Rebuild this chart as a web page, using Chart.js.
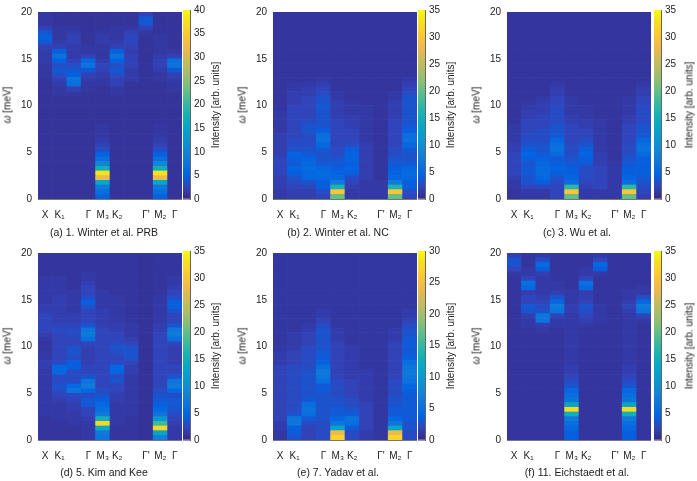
<!DOCTYPE html>
<html>
<head>
<meta charset="utf-8">
<script src="https://cdn.jsdelivr.net/npm/chart.js@4.4.1/dist/chart.umd.min.js"></script>
<style>
  html, body { margin: 0; padding: 0; background: #fff; }
  #page { position: relative; width: 697px; height: 481px; overflow: hidden;
          font-family: "Liberation Sans", Arial, sans-serif; color: #222; }
  #page canvas { position: absolute; }
  .lbl { position: absolute; font-size: 10px; white-space: nowrap; transform: translate(-50%, -50%); }
  .cap { font-size: 10.5px; }
  .rot { transform: translate(-50%, -50%) rotate(-90deg); }
</style>
</head>
<body>
<div id="page"></div>
<script>
// path through the Brillouin zone (10 columns)
const kLabels = ['X', 'K₁', '', 'Γ', 'M₃', 'K₂', '', "Γ'", 'M₂', 'Γ'];
const omegaTicks = [0, 5, 10, 15, 20];
// energy bins of 0.5 meV from 0 to 20 meV
const omegaEdges = Array.from({ length: 41 }, (_, i) => i * 0.5);

// intensity per column, 40 energy bins each (0 -> 20 meV)
const winterPRB = [
  [1,1,1,1,1,1,1,1,1,1, 1,1,1,1,1,1,1,1,1,1, 1,1,1,1,1,1,1.4,1.4,1.4,1.8, 1.8,1.8,2.3,4.2,5,4.2,2.3,1.4,1.4,1.4],
  [1,1,1,1,1,1,1,1,1,1, 1,1,1,1,1,1,1,1,1,1, 1,1,1.4,1.4,1.8,2.3,3.3,4.2,3.3,5, 7,5,2.3,1.8,1.4,1.4,1.4,1,1,1],
  [1,1,1,1,1,1,1,1,1,1, 1,1,1,1,1,1,1,1,1,1, 1,1,1.4,2.3,6.6,7.4,5,4.2,3.3,2.3, 1.8,1.8,1.8,2.3,2.3,1.8,1.4,1,1,1],
  [1,1,1,1,1,1,1,1,1,1, 1,1,1,1,1,1,1,1,1,1, 1,1,1,1.4,1.4,1.8,2.3,4.2,7.4,5.8, 2.3,1.4,1.4,1,1,1,1,1,1,1],
  [5,6.6,8.2,15,32,38,17,10,6.6,5, 3.3,2.3,1.8,1.4,1.4,1.4,1,1,1,1, 1,1,1,1,1.4,1.4,1.8,2.3,2.8,1.8, 1.4,1.4,1.4,1.8,1.8,1.4,1,1,1,1],
  [1,1,1,1,1,1,1,1,1,1, 1,1,1,1,1,1,1,1,1,1, 1,1,1.4,1.4,2.3,2.3,3.3,4.2,3.3,5, 7,5,2.3,1.8,1.4,1.4,1.4,1,1,1],
  [1,1,1,1,1,1,1,1,1,1, 1,1,1,1,1,1,1,1,1,1, 1,1,1,1,1,1.8,1.8,1.8,2.3,2.3, 2.3,1.8,2.3,2.8,2.8,2.3,1.4,1,1,1],
  [1,1,1,1,1,1,1,1,1,1, 1,1,1,1,1,1,1,1,1,1, 1,1,1,1,1,1,1,1,1,1, 1,1,1,1,1,1.4,2.3,4.2,4.2,2.3],
  [5,6.6,8.2,15,32,38,17,10,6.6,5, 3.3,2.3,1.8,1.4,1.4,1.4,1,1,1,1, 1,1,1,1,1,1.4,1.4,1.8,2.3,2.3, 1.8,1.4,1.4,1.4,1.4,1,1,1,1,1],
  [1,1,1,1,1,1,1,1,1,1, 1,1,1,1,1,1,1,1,1,1, 1,1,1,1.4,1.4,1.8,2.3,4.2,7.4,6.6, 2.3,1.4,1,1,1,1,1,1,1,1]
];

const winterNC = [
  [1.4,1.4,1.8,1.8,1.8,2.3,2.3,2.3,2.3,1.8, 1.8,1.8,1.8,1.8,1.4,1.4,1.4,1.4,1.4,1, 1,1,1,1,1,1,1,1,1,1, 1,1,1,1,1,1,1,1,1,1],
  [1.8,1.8,2.3,2.8,3.3,4.2,4.6,3.7,4.2,4.6, 3.3,2.8,2.8,2.3,2.3,2.3,2.3,2.3,2.3,2.3, 1.8,1.8,1.8,1.4,1.4,1,1,1,1,1, 1,1,1,1,1,1,1,1,1,1],
  [1.8,1.8,2.3,3.3,5,5,5.4,5,4.6,3.7, 3.3,2.8,2.8,2.8,3.3,3.3,2.8,2.3,2.3,2.3, 2.3,2.3,1.8,1.8,1.4,1,1,1,1,1, 1,1,1,1,1,1,1,1,1,1],
  [2.3,2.8,4.2,4.2,5,5.4,5,3.7,3.3,3.3, 3.7,5,6.2,5.8,4.2,3.3,3.3,3.3,3.3,3.7, 3.3,3.3,2.8,2.3,1.8,1.4,1,1,1,1, 1,1,1,1,1,1,1,1,1,1],
  [20,30,16,7.4,5,4.6,4.2,3.7,3.3,2.8, 2.8,2.3,2.3,2.3,2.3,2.3,2.3,1.8,1.8,1.8, 1.8,1.4,1.4,1,1,1,1,1,1,1, 1,1,1,1,1,1,1,1,1,1],
  [1.4,1.4,1.8,2.3,2.8,4.2,4.6,4.2,4.6,4.6, 4.2,2.8,2.3,2.3,2.3,1.8,1.8,1.8,1.4,1.4, 1.4,1,1,1,1,1,1,1,1,1, 1,1,1,1,1,1,1,1,1,1],
  [1.4,1.4,1.4,1.4,1.8,1.8,1.8,1.8,1.8,1.8, 1.8,1.8,1.4,1.4,1.4,1.4,1.4,1.4,1.4,1.4, 1,1,1,1,1,1,1,1,1,1, 1,1,1,1,1,1,1,1,1,1],
  [1.4,1.4,1.4,1.4,1,1,1,1,1,1, 1,1,1,1,1,1,1,1,1,1, 1,1,1,1,1,1,1,1,1,1, 1,1,1,1,1,1,1,1,1,1],
  [20,30,16,7.4,5,4.6,4.2,3.7,3.3,2.8, 2.8,2.3,2.3,2.3,2.3,2.3,2.3,1.8,1.8,1.8, 1.8,1.4,1.4,1,1,1,1,1,1,1, 1,1,1,1,1,1,1,1,1,1],
  [2.3,2.8,4.2,4.2,5,5.4,5,3.7,3.3,3.3, 3.7,5,6.2,5.8,4.2,3.7,3.3,3.3,3.3,3.3, 3.3,3.3,2.8,2.3,1.8,1.4,1,1,1,1, 1,1,1,1,1,1,1,1,1,1]
];

const wu = [
  [1,1,1.4,1.4,1.8,2.3,2.3,2.3,2.3,2.3, 1.8,1.8,1.4,1.4,1.4,1.4,1,1,1,1, 1,1,1,1,1,1,1,1,1,1, 1,1,1,1,1,1,1,1,1,1],
  [1.4,1.4,2.3,3.3,3.3,3.7,3.7,3.3,4.2,4.6, 4.2,3.3,2.8,2.8,2.3,2.3,2.3,1.8,1.8,1.4, 1.4,1,1,1,1,1,1,1,1,1, 1,1,1,1,1,1,1,1,1,1],
  [1.4,1.4,2.3,4.2,5,5.4,5.4,5,4.6,3.7, 3.3,3.3,2.8,2.8,2.8,2.3,2.3,2.3,1.8,1.8, 1.8,1.4,1,1,1,1,1,1,1,1, 1,1,1,1,1,1,1,1,1,1],
  [2.3,2.3,2.3,2.8,3.3,4.2,4.6,4.2,3.7,5.4, 6.2,5.8,5,3.7,3.3,3.3,2.8,2.8,2.8,2.8, 2.3,2.3,1.8,1.8,1.4,1,1,1,1,1, 1,1,1,1,1,1,1,1,1,1],
  [20,30,17,5.8,4.6,4.2,4.2,3.7,3.3,2.8, 2.8,2.8,2.3,2.3,2.3,2.3,1.8,1.8,1.4,1.4, 1.4,1.4,1,1,1,1,1,1,1,1, 1,1,1,1,1,1,1,1,1,1],
  [1.4,1.4,1.8,2.3,2.8,2.8,2.8,3.7,4.2,4.6, 4.2,3.3,2.8,2.3,2.3,1.8,1.8,1.4,1.4,1.4, 1,1,1,1,1,1,1,1,1,1, 1,1,1,1,1,1,1,1,1,1],
  [1.4,1.4,2.3,2.3,2.3,2.3,2.3,1.8,1.8,1.8, 1.4,1.4,1.4,1.4,1.4,1.4,1.4,1,1,1, 1,1,1,1,1,1,1,1,1,1, 1,1,1,1,1,1,1,1,1,1],
  [1.4,1.4,1.4,1.4,1.4,1.4,1.4,1.4,1,1, 1,1,1,1,1,1,1,1,1,1, 1,1,1,1,1,1,1,1,1,1, 1,1,1,1,1,1,1,1,1,1],
  [20,30,17,5.8,4.6,4.2,4.2,3.7,3.3,2.8, 2.8,2.8,2.3,2.3,2.3,2.3,1.8,1.8,1.4,1.4, 1.4,1.4,1,1,1,1,1,1,1,1, 1,1,1,1,1,1,1,1,1,1],
  [1.8,2.3,2.8,3.3,3.7,4.2,4.2,4.2,4.2,5.4, 6.2,5.8,5,3.7,3.3,3.3,2.8,2.8,2.8,2.8, 2.3,2.3,1.8,1.8,1.4,1,1,1,1,1, 1,1,1,1,1,1,1,1,1,1]
];

const kimKee = [
  [1,1,1,1,1,1.4,1.4,1.4,1.4,1.4, 1.4,1.4,1.4,1.4,1.4,1.8,1.8,1.4,1.4,1, 1,1.4,1.8,2.3,2.3,2.3,2.3,1.8,1.8,1.4, 1.4,1.4,1.4,1.4,1.4,1,1,1,1,1],
  [1,1,1,1,1.4,1.4,1.4,1.4,1.8,2.3, 2.8,3.3,2.8,2.8,5,5,2.8,2.3,2.3,2.3, 2.3,2.3,2.3,2.8,2.3,1.8,1.8,1.8,1.8,1.8, 1.8,1.4,1.4,1.4,1.4,1,1,1,1,1],
  [1,1,1,1.4,1.4,1.4,1.8,1.8,2.3,2.8, 6.6,5,2.8,2.8,2.8,4.2,4.2,2.8,3.3,3.3, 2.3,2.3,2.8,2.8,2.3,1.8,1.8,1.4,1.4,1.4, 1.4,1.4,1,1,1,1,1,1,1,1],
  [1.4,1.4,1.4,1.4,1.8,2.3,2.3,3.7,3.7,2.8, 5,7.4,6.6,3.3,2.3,2.3,1.8,1.8,1.8,1.8, 2.3,5.8,7.4,6.6,3.3,2.3,2.3,2.3,3.3,4.2, 2.8,2.3,2.3,1.8,1.4,1.4,1,1,1,1],
  [6.6,7.4,14,32,15,7.4,5.8,5,4.2,3.3, 2.8,2.3,2.3,2.3,2.3,2.3,2.3,2.3,2.3,2.3, 2.3,2.3,2.3,2.3,1.8,1.8,1.8,1.8,1.4,1.4, 1.4,1.4,1,1,1,1,1,1,1,1],
  [1,1,1,1.4,1.4,1.4,1.4,1.4,1.8,1.8, 2.3,2.3,3.3,2.8,4.6,5,2.8,2.3,2.8,3.3, 2.8,2.3,2.3,1.8,1.8,1.4,1.4,1.4,1.4,1.4, 1.4,1,1,1,1,1,1,1,1,1],
  [1,1,1,1,1,1.4,1.4,1.4,1.4,1.4, 1.4,1.4,1.4,1.4,1.8,1.8,2.3,3.3,3.3,3.3, 2.3,1.8,1.4,1.4,1.4,1,1,1,1,1, 1,1,1,1,1,1,1,1,1,1],
  [0.8,0.8,0.8,0.8,0.8,0.8,0.8,0.8,0.8,0.8, 0.8,0.8,0.8,0.8,0.8,0.8,0.8,0.8,0.8,0.8, 0.8,0.8,0.8,0.8,0.8,0.8,0.8,0.8,0.8,0.8, 0.8,0.8,0.8,0.8,0.8,0.8,0.8,0.8,0.8,0.8],
  [8,13,32,18,11,6.6,5,4.2,3.7,3.3, 2.8,2.3,2.3,2.3,2.3,2.3,2.3,2.3,2.3,2.3, 2.3,2.3,2.3,1.8,1.8,1.4,1.4,1.4,1.4,1.4, 1.4,1,1,1,1,1,1,1,1,1],
  [1.4,1.4,1.4,1.8,2.3,2.8,3.3,3.7,3.7,2.8, 5,7.4,6.6,3.3,2.3,2.3,1.8,1.8,1.8,1.8, 2.3,5.8,7.4,7,3.3,2.3,2.3,3.3,4.2,4.2, 2.8,2.3,1.8,1.4,1.4,1,1,1,1,1]
];

const yadav = [
  [1,1,1.4,1.4,1.8,1.8,1.8,1.8,1.8,1.8, 1.8,1.8,1.8,1.8,1.8,1.8,1.4,1.4,1.4,1, 1,1,1,1,1,1,1,1,1,1, 1,1,1,1,1,1,1,1,1,1],
  [2.8,3.3,3.7,5.8,5.8,2.8,2.3,2.3,2.3,2.3, 2.3,2.3,2.3,2.3,2.3,2.3,1.8,1.8,1.8,1.4, 1.4,1.4,1.4,1,1,1,1,1,1,1, 1,1,1,1,1,1,1,1,1,1],
  [1.8,1.8,1.8,2.3,3.3,5,5.4,5,3.3,2.8, 2.8,2.8,2.8,2.8,2.8,2.3,2.3,2.3,2.3,2.3, 1.8,1.8,1.8,1.4,1.4,1,1,1,1,1, 1,1,1,1,1,1,1,1,1,1],
  [2.3,2.3,2.3,2.3,2.8,2.8,2.8,2.8,2.8,2.8, 3.3,3.3,5,5.8,6.2,5,3.7,3.3,3.3,2.8, 2.8,2.8,2.8,2.8,2.3,1.8,1.4,1.4,1,1, 1,1,1,1,1,1,1,1,1,1],
  [27,24,11,5.8,4.2,3.3,3.3,2.8,2.8,2.3, 2.3,2.3,2.3,1.8,1.8,1.8,1.8,1.8,1.8,1.8, 1.8,1.4,1.4,1.4,1,1,1,1,1,1, 1,1,1,1,1,1,1,1,1,1],
  [2.3,2.3,3.3,5,5.4,3.3,2.8,2.3,2.3,1.8, 1.8,1.8,1.8,1.4,1.4,1.4,1.4,1.4,1.4,1.4, 1,1,1,1,1,1,1,1,1,1, 1,1,1,1,1,1,1,1,1,1],
  [1.4,1.4,1.8,1.8,1.8,1.8,1.8,1.8,1.4,1.4, 1.4,1.4,1.4,1.4,1.4,1,1,1,1,1, 1,1,1,1,1,1,1,1,1,1, 1,1,1,1,1,1,1,1,1,1],
  [1,1,1,1,1,1,1,1,1,1, 1,1,1,1,1,1,1,1,1,1, 1,1,1,1,1,1,1,1,1,1, 1,1,1,1,1,1,1,1,1,1],
  [27,24,11,5.8,4.2,3.3,3.3,2.8,2.8,2.3, 2.3,2.3,2.3,1.8,1.8,1.8,1.8,1.8,1.8,1.8, 1.8,1.4,1.4,1.4,1,1,1,1,1,1, 1,1,1,1,1,1,1,1,1,1],
  [2.3,2.3,2.8,2.8,3.3,3.3,3.3,3.3,3.3,3.3, 3.7,4.2,5.4,5.8,6.2,5.8,5,3.7,3.3,3.3, 3.3,3.3,2.8,2.8,2.3,1.8,1.4,1.4,1,1, 1,1,1,1,1,1,1,1,1,1]
];

const eichstaedt = [
  [1,1,1,1,1,1,1,1,1,1, 1,1,1,1,1,1,1,1,1,1, 1,1,1,1,1,1,1,1,1,1, 1,1,1,1,1,1.4,2.3,3.3,3.3,1.8],
  [1,1,1,1,1,1,1,1,1,1, 1,1,1,1,1,1,1,1,1,1, 1,1,1,1,1.4,1.4,1.8,3.3,3.7,2.3, 2.3,1.8,5,6,2.3,1.4,1.4,1,1,1],
  [1,1,1,1,1,1,1,1,1,1, 1,1,1,1,1,1,1,1,1,1, 1,1,1,1.4,1.8,6.6,7,3.3,2.8,2.3, 1.8,1.4,1.4,1.4,1.4,1.8,4.2,5.4,2.8,1.4],
  [1,1,1,1,1,1,1,1,1,1, 1,1,1,1,1,1,1,1,1,1, 1,1,1,1,1.4,1.4,2.3,6.6,7.4,5, 3.3,1.8,1.4,1.4,1,1,1,1,1,1],
  [4.2,4.2,5,5.8,7.4,15,32,13,6.6,5.8, 5,3.3,2.8,2.3,1.8,1.8,1.4,1.4,1.4,1.4, 1.4,1.4,1.4,1.4,1.4,1.4,1.4,1.8,1.8,1.4, 1.4,1.4,1,1,1,1,1,1,1,1],
  [1,1,1,1,1,1,1,1,1,1, 1,1,1,1,1,1,1,1,1,1, 1,1,1,1,1.4,1.8,2.3,2.8,3.3,2.3, 1.8,1.8,5,6,2.3,1.4,1.4,1,1,1],
  [1,1,1,1,1,1,1,1,1,1, 1,1,1,1,1,1,1,1,1,1, 1,1,1,1,1,1.4,1.4,1.4,1.4,1, 1,1,1,1,1,1.4,4.2,5,2.3,1.4],
  [1,1,1,1,1,1,1,1,1,1, 1,1,1,1,1,1,1,1,1,1, 1,1,1,1,1,1,1,1,1,1, 1,1,1,1,1,1,1,1,1,1],
  [4.2,4.2,5,5.8,7.4,15,32,13,6.6,5.8, 5,3.3,2.8,2.3,1.8,1.8,1.4,1.4,1.4,1.4, 1.4,1.4,1.4,1.4,1.4,1.4,1.4,1.8,2.3,1.8, 1.4,1.4,1,1,1,1,1,1,1,1],
  [1,1,1,1,1,1,1,1,1,1, 1,1,1,1,1,1,1,1,1,1, 1,1,1,1,1,1.4,2.3,6.6,7.4,5, 2.8,1.4,1.4,1,1,1,1,1,1,1]
];

const panelData = [winterPRB, winterNC, wu, kimKee, yadav, eichstaedt];
const colorMax = [40, 35, 35, 35, 30, 35];
const captions = ['(a) 1. Winter et al. PRB', '(b) 2. Winter et al. NC', '(c) 3. Wu et al.',
                  '(d) 5. Kim and Kee', '(e) 7. Yadav et al.', '(f) 11. Eichstaedt et al.'];

// parula colour map, [position, r, g, b]
const parula = [
  [0/63, 53, 42, 135], [4/63, 50, 67, 186], [8/63, 3, 99, 225], [12/63, 13, 117, 220],
  [16/63, 20, 133, 212], [20/63, 9, 152, 209], [24/63, 6, 167, 198], [28/63, 21, 177, 180],
  [32/63, 56, 185, 158], [36/63, 101, 190, 134], [40/63, 146, 191, 115], [44/63, 183, 189, 100],
  [48/63, 217, 186, 86], [52/63, 248, 187, 68], [56/63, 252, 206, 46], [60/63, 245, 228, 29],
  [63/63, 249, 251, 14]
];

function parulaColor(t) {
  t = Math.max(0, Math.min(1, t));
  for (let i = 1; i < parula.length; i++) {
    if (t <= parula[i][0]) {
      const a = parula[i - 1], b = parula[i];
      const f = (t - a[0]) / (b[0] - a[0]);
      const c = [1, 2, 3].map(k => Math.round(a[k] + (b[k] - a[k]) * f));
      return `rgb(${c[0]},${c[1]},${c[2]})`;
    }
  }
  return 'rgb(249,251,14)';
}

// layout
const colLeft = [38, 273, 507];
const rowTop = [10, 251];
const plotW = 144, plotH = 189;
const cbOffset = [145, 145, 147];
const cbTitleX = [215, 450, 689];
const captionX = [104, 338, 577];
const captionY = [232, 472];
const tickFont = { family: '"Liberation Sans", Arial, sans-serif', size: 10 };
const textColor = '#222';

const page = document.getElementById('page');

function addCanvas(left, top, w, h) {
  const c = document.createElement('canvas');
  c.width = w; c.height = h;
  c.style.left = left + 'px'; c.style.top = top + 'px';
  c.style.width = w + 'px'; c.style.height = h + 'px';
  page.appendChild(c);
  return c;
}

function addLabel(html, x, y, cls) {
  const d = document.createElement('div');
  d.className = 'lbl ' + cls;
  d.innerHTML = html;
  d.style.left = x + 'px'; d.style.top = y + 'px';
  page.appendChild(d);
}

panelData.forEach((cols, p) => {
  const ci = p % 3, ri = Math.floor(p / 3);
  const left = colLeft[ci], top = rowTop[ri];
  const max = colorMax[p];

  // heatmap: one floating-bar dataset per energy bin
  const datasets = [];
  for (let i = 0; i < omegaEdges.length - 1; i++) {
    datasets.push({
      data: kLabels.map(() => [omegaEdges[i], omegaEdges[i + 1]]),
      backgroundColor: cols.map(col => parulaColor(col[i] / max)),
      borderWidth: 0,
      grouped: false,
      barPercentage: 1,
      categoryPercentage: 1
    });
  }
  const hm = addCanvas(left - 38, top - 10, 38 + plotW, 10 + plotH + 30);
  new Chart(hm, {
    type: 'bar',
    data: { labels: kLabels, datasets: datasets },
    options: {
      responsive: false,
      animation: false,
      events: [],
      layout: { padding: { top: 10, right: 0, left: 0, bottom: 0 } },
      plugins: { legend: { display: false }, tooltip: { enabled: false } },
      scales: {
        x: {
          grid: { display: false, tickLength: 8 },
          border: { display: true, color: '#777' },
          ticks: { color: textColor, font: tickFont, padding: 2, maxRotation: 0, autoSkip: false },
          afterFit: s => { s.height = 30; }
        },
        y: {
          min: 0, max: 20,
          grid: { display: false, drawTicks: false },
          border: { display: true, color: '#777' },
          afterBuildTicks: s => { s.ticks = omegaTicks.map(v => ({ value: v })); },
          ticks: { color: textColor, font: tickFont, padding: 6 },
          afterFit: s => { s.width = 38; }
        }
      }
    }
  });

  // colour bar
  const cbLeft = left + cbOffset[ci];
  const cb = addCanvas(cbLeft, top - 10, 7 + 30, 10 + plotH + 10);
  new Chart(cb, {
    type: 'bar',
    data: {
      labels: [''],
      datasets: [{
        data: [[0, max]],
        backgroundColor: ctx => {
          const area = ctx.chart.chartArea;
          if (!area || !isFinite(area.top) || !isFinite(area.bottom)) return parulaColor(0);
          const g = ctx.chart.ctx.createLinearGradient(0, area.bottom, 0, area.top);
          parula.forEach(s => g.addColorStop(s[0], `rgb(${s[1]},${s[2]},${s[3]})`));
          return g;
        },
        borderWidth: 0,
        barPercentage: 1,
        categoryPercentage: 1
      }]
    },
    options: {
      responsive: false,
      animation: false,
      events: [],
      layout: { padding: { top: 10, bottom: 10, left: 0, right: 0 } },
      plugins: { legend: { display: false }, tooltip: { enabled: false } },
      scales: {
        x: { display: false },
        y: {
          position: 'right',
          min: 0, max: max,
          z: 1,
          grid: { color: 'rgba(30,30,30,0.45)', drawTicks: false },
          border: { display: true, color: '#666' },
          ticks: { stepSize: 5, color: textColor, font: tickFont, padding: 4 },
          afterFit: s => { s.width = 30; }
        }
      }
    }
  });

  addLabel('<i>ω</i> [meV]', left - 31, top + plotH / 2, 'rot');
  addLabel('Intensity [arb. units]', cbTitleX[ci], top + plotH / 2, 'rot');
  addLabel(captions[p], captionX[ci], captionY[ri], 'cap');
});
</script>
</body>
</html>
